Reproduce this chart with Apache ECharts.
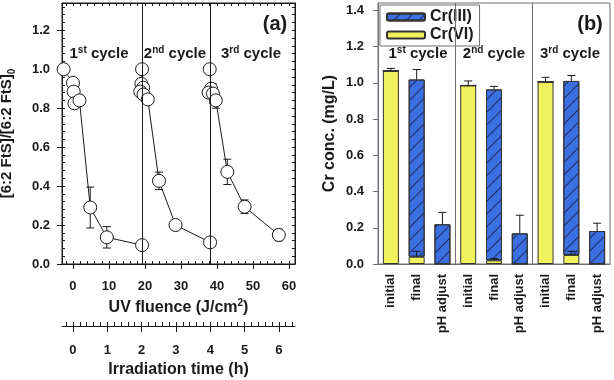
<!DOCTYPE html>
<html><head><meta charset="utf-8">
<script src="https://cdn.jsdelivr.net/npm/echarts@6/dist/echarts.min.js"></script>
<style>html,body{margin:0;padding:0;background:#fff}#c{width:614px;height:380px}</style>
</head><body><div id="c"></div>
<script>
// ---------- panel (a) data ----------
const cycle1Fluence = [-2.6, 0.0, 0.2, 0.4, 1.8, 4.8, 9.4, 19.2];
const cycle1Ratio   = [1.0, 0.93, 0.885, 0.825, 0.84, 0.29, 0.137, 0.097];
const cycle2Fluence = [19.2, 19.0, 19.5, 18.7, 19.6, 20.8, 23.9, 28.5, 38.1];
const cycle2Ratio   = [1.0, 0.925, 0.905, 0.885, 0.87, 0.845, 0.427, 0.2, 0.111];
const cycle3Fluence = [38.0, 38.4, 37.7, 38.9, 39.7, 42.9, 47.7, 57.2];
const cycle3Ratio   = [1.0, 0.9, 0.88, 0.875, 0.84, 0.473, 0.294, 0.149];
const errFluence = [4.8, 9.4, 23.9, 38.9, 39.7, 42.9, 47.7, 57.2];
const errRatio   = [0.29, 0.137, 0.427, 0.875, 0.84, 0.473, 0.294, 0.149];
const errSize    = [0.105, 0.055, 0.045, 0.05, 0.04, 0.065, 0.035, 0.03];
const cycleBreaks = [19.2, 38.2];
const fluenceTicks = [0, 10, 20, 30, 40, 50, 60];
const timeTicks = [0, 1, 2, 3, 4, 5, 6];
const ratioTicks = [0, 0.2, 0.4, 0.6, 0.8, 1.0, 1.2];

// ---------- panel (b) data ----------
const categories = ['initial', 'final', 'pH adjust', 'initial', 'final', 'pH adjust', 'initial', 'final', 'pH adjust'];
const crVI   = [1.065, 0.04, 0, 0.985, 0.02, 0, 1.005, 0.05, 0];
const crIII  = [0, 0.978, 0.219, 0, 0.943, 0.169, 0, 0.96, 0.182];
const errVI  = [0.014, 0.03, 0, 0.025, 0.01, 0, 0.025, 0.02, 0];
const errIII = [0, 0.055, 0.066, 0, 0.017, 0.1, 0, 0.03, 0.043];
const concTicks = [0, 0.2, 0.4, 0.6, 0.8, 1.0, 1.2, 1.4];
const categoryBreaks = [3, 6];

// helpers for minor tick positions
function steps(a, b, s) { const r = []; for (let v = a; v <= b + 1e-9; v += s) r.push(+v.toFixed(4)); return r; }

const ptsA = (xs, ys) => xs.map((x, i) => [x, ys[i]]);
const errDataA = errFluence.map((x, i) => [x, errRatio[i], errSize[i]]);
const errDataB = [];
categories.forEach((c, i) => {
  if (errVI[i] > 0) errDataB.push([i, crVI[i], errVI[i]]);
  if (errIII[i] > 0) errDataB.push([i, crVI[i] + crIII[i], errIII[i]]);
});

const F = 'Liberation Sans, Arial, sans-serif';
const black = '#1a1a1a';
const grey = '#707070';

const lineSeries = (data, extra) => Object.assign({
  type: 'line', xAxisIndex: 0, yAxisIndex: 0, data: data,
  symbol: 'circle', symbolSize: 13,
  itemStyle: { color: '#fff', borderColor: black, borderWidth: 1 },
  lineStyle: { color: black, width: 1 }, z: 3, animation: false
}, extra || {});

const chart = echarts.init(document.getElementById('c'), null, { renderer: 'canvas' });
const option = {
  animation: false,
  grid: [
    { left: 62, top: 3, width: 233, height: 261, show: true, borderColor: black, borderWidth: 1, containLabel: false, outerBoundsMode: 'none' },
    { left: 378, top: 3, width: 232, height: 261, show: true, borderColor: grey, borderWidth: 1, containLabel: false, outerBoundsMode: 'none' }
  ],
  xAxis: [
    { // 0 fluence main
      gridIndex: 0, type: 'value', min: -3.05, max: 61.7, position: 'bottom',
      axisLine: { onZero: false, lineStyle: { color: black } },
      axisTick: { customValues: fluenceTicks, length: 5, lineStyle: { color: black } },
      axisLabel: { customValues: fluenceTicks, margin: 16, color: black, fontFamily: F, fontWeight: 'bold', fontSize: 13 },
      splitLine: { show: false },
      name: '{a|UV fluence (J/cm}{s|2}{a|)}', nameLocation: 'middle', nameGap: 32,
      nameTextStyle: { rich: {
        a: { fontFamily: F, fontWeight: 'bold', fontSize: 16, color: black, lineHeight: 20 },
        s: { fontFamily: F, fontWeight: 'bold', fontSize: 10, color: black, verticalAlign: 'top', lineHeight: 20 } } }
    },
    { // 1 fluence inner minor
      gridIndex: 0, type: 'value', min: -3.05, max: 61.7, position: 'bottom',
      axisLine: { show: false, onZero: false },
      axisTick: { inside: true, customValues: steps(-2, 60, 2), length: 3, lineStyle: { color: black } },
      axisLabel: { show: false }, splitLine: { show: false }
    },
    { // 2 top mirror
      gridIndex: 0, type: 'value', min: -3.05, max: 61.7, position: 'top',
      axisLine: { onZero: false, lineStyle: { color: black } },
      axisTick: { inside: true, customValues: steps(-2, 60, 2), length: 3, lineStyle: { color: black } },
      axisLabel: { show: false }, splitLine: { show: false }
    },
    { // 3 time main
      gridIndex: 0, type: 'value', min: -0.32, max: 6.47, position: 'bottom', offset: 62,
      axisLine: { onZero: false, lineStyle: { color: black } },
      axisTick: { customValues: timeTicks, length: 6, lineStyle: { color: black } },
      axisLabel: { customValues: timeTicks, margin: 18, color: black, fontFamily: F, fontWeight: 'bold', fontSize: 13 },
      splitLine: { show: false },
      name: 'Irradiation time (h)', nameLocation: 'middle', nameGap: 36,
      nameTextStyle: { fontFamily: F, fontWeight: 'bold', fontSize: 16, color: black }
    },
    { // 4 time minor
      gridIndex: 0, type: 'value', min: -0.32, max: 6.47, position: 'bottom', offset: 62,
      axisLine: { show: false, onZero: false },
      axisTick: { inside: true, customValues: steps(-0.2, 6.4, 0.2), length: 4, lineStyle: { color: black } },
      axisLabel: { show: false }, splitLine: { show: false }
    },
    { // 5 categories
      gridIndex: 1, type: 'category', data: categories, boundaryGap: true,
      axisLine: { onZero: false, lineStyle: { color: grey } },
      axisTick: { alignWithLabel: true, length: 4, lineStyle: { color: grey } },
      axisLabel: { rotate: 90, interval: 0, margin: 10, color: black, fontFamily: F, fontWeight: 'bold', fontSize: 13 }
    },
    { // 6 hidden value axis for separators
      gridIndex: 1, type: 'value', min: 0, max: 9, show: false
    }
  ],
  yAxis: [
    { // 0 ratio main
      gridIndex: 0, type: 'value', min: 0, max: 1.34, position: 'left',
      axisLine: { show: true, onZero: false, lineStyle: { color: black } },
      axisTick: { show: true, customValues: ratioTicks, length: 5, lineStyle: { color: black } },
      axisLabel: { customValues: ratioTicks, formatter: v => v.toFixed(1), margin: 12, color: black, fontFamily: F, fontWeight: 'bold', fontSize: 13 },
      splitLine: { show: false },
      name: '{a|[6:2 FtS]/[6:2 FtS]}{b|0}', nameLocation: 'middle', nameGap: 45,
      nameTextStyle: { rich: {
        a: { fontFamily: F, fontWeight: 'bold', fontSize: 15, color: black, lineHeight: 20 },
        b: { fontFamily: F, fontWeight: 'bold', fontSize: 10, color: black, verticalAlign: 'bottom', lineHeight: 20 } } }
    },
    { // 1 ratio inner minor
      gridIndex: 0, type: 'value', min: 0, max: 1.34, position: 'left',
      axisLine: { show: false, onZero: false },
      axisTick: { show: true, inside: true, customValues: steps(0.04, 1.32, 0.04), length: 3, lineStyle: { color: black } },
      axisLabel: { show: false }, splitLine: { show: false }
    },
    { // 2 right mirror
      gridIndex: 0, type: 'value', min: 0, max: 1.34, position: 'right',
      axisLine: { show: true, onZero: false, lineStyle: { color: black } },
      axisTick: { show: true, inside: true, customValues: steps(0.04, 1.32, 0.04), length: 3, lineStyle: { color: black } },
      axisLabel: { show: false }, splitLine: { show: false }
    },
    { // 3 concentration
      gridIndex: 1, type: 'value', min: 0, max: 1.44, position: 'left',
      axisLine: { show: true, onZero: false, lineStyle: { color: grey } },
      axisTick: { show: true, customValues: concTicks, length: 5, lineStyle: { color: grey } },
      axisLabel: { customValues: concTicks, formatter: v => v.toFixed(1), margin: 14, color: black, fontFamily: F, fontWeight: 'bold', fontSize: 13 },
      splitLine: { show: false },
      name: 'Cr conc. (mg/L)', nameLocation: 'middle', nameGap: 40,
      nameTextStyle: { fontFamily: F, fontWeight: 'bold', fontSize: 16, color: black }
    }
  ],
  legend: {
    data: ['Cr(III)', 'Cr(VI)'], orient: 'vertical', left: 380, top: 5,
    itemWidth: 38, itemHeight: 7, itemGap: 2, padding: [4, 6, 3, 6],
    borderColor: grey, borderWidth: 1, backgroundColor: '#fff',
    textStyle: { fontFamily: F, fontWeight: 'bold', fontSize: 16, color: black, lineHeight: 16 }
  },
  graphic: [
    { type: 'text', x: 275, y: 24, style: { text: '(a)', font: 'bold 20px ' + F, fill: black, align: 'center', verticalAlign: 'middle', textAlign: 'center', textVerticalAlign: 'middle' } },
    { type: 'text', x: 590, y: 24, style: { text: '(b)', font: 'bold 20px ' + F, fill: black, align: 'center', verticalAlign: 'middle', textAlign: 'center', textVerticalAlign: 'middle' } }
  ].concat([[99, '1', 'st'], [175, '2', 'nd'], [251, '3', 'rd'], [418, '1', 'st'], [494, '2', 'nd'], [570, '3', 'rd']].map(d => ({
    type: 'text', x: d[0], y: 54,
    style: {
      text: '{n|' + d[1] + '}{s|' + d[2] + '}{n| cycle}',
      align: 'center', verticalAlign: 'middle', textAlign: 'center', textVerticalAlign: 'middle',
      rich: {
        n: { fontFamily: F, fontWeight: 'bold', fontSize: 15, fill: black, color: black, lineHeight: 18 },
        s: { fontFamily: F, fontWeight: 'bold', fontSize: 10, fill: black, color: black, verticalAlign: 'top', lineHeight: 18 }
      }
    }
  }))),
  series: [
    {
      type: 'custom', xAxisIndex: 0, yAxisIndex: 0, data: errDataA, z: 2, silent: true,
      renderItem: function (params, api) {
        const x = api.value(0), y = api.value(1), e = api.value(2);
        const lo = api.coord([x, y - e]), hi = api.coord([x, y + e]);
        const w = 4, st = { stroke: black, lineWidth: 1 };
        return { type: 'group', children: [
          { type: 'line', shape: { x1: lo[0], y1: lo[1], x2: hi[0], y2: hi[1] }, style: st },
          { type: 'line', shape: { x1: lo[0] - w, y1: lo[1], x2: lo[0] + w, y2: lo[1] }, style: st },
          { type: 'line', shape: { x1: hi[0] - w, y1: hi[1], x2: hi[0] + w, y2: hi[1] }, style: st }
        ] };
      }
    },
    lineSeries(ptsA(cycle1Fluence, cycle1Ratio), {
      markLine: { silent: true, symbol: 'none', label: { show: false },
        lineStyle: { color: black, type: 'solid', width: 1 },
        data: cycleBreaks.map(v => ({ xAxis: v })) }
    }),
    lineSeries(ptsA(cycle2Fluence, cycle2Ratio)),
    lineSeries(ptsA(cycle3Fluence, cycle3Ratio)),
    {
      name: 'Cr(VI)', type: 'bar', xAxisIndex: 5, yAxisIndex: 3, stack: 'cr', data: crVI, barWidth: 16,
      itemStyle: { color: '#f2f25e', borderColor: '#333', borderWidth: 1 }, z: 2
    },
    {
      name: 'Cr(III)', type: 'bar', xAxisIndex: 5, yAxisIndex: 3, stack: 'cr', data: crIII, barWidth: 16,
      itemStyle: { color: '#3c6fe0', borderColor: '#333', borderWidth: 1,
        decal: { symbol: 'rect', symbolSize: 1, dashArrayX: [1, 0], dashArrayY: [1, 8], rotation: -Math.PI / 4, color: '#1c2b66' } },
      z: 2
    },
    {
      type: 'custom', xAxisIndex: 5, yAxisIndex: 3, data: errDataB, z: 4, silent: true,
      renderItem: function (params, api) {
        const x = api.value(0), y = api.value(1), e = api.value(2);
        const lo = api.coord([x, y]), hi = api.coord([x, y + e]);
        const w = 4, st = { stroke: black, lineWidth: 1 };
        return { type: 'group', children: [
          { type: 'line', shape: { x1: lo[0], y1: lo[1], x2: hi[0], y2: hi[1] }, style: st },
          { type: 'line', shape: { x1: hi[0] - w, y1: hi[1], x2: hi[0] + w, y2: hi[1] }, style: st }
        ] };
      }
    },
    {
      type: 'line', xAxisIndex: 6, yAxisIndex: 3, data: [], silent: true,
      markLine: { silent: true, symbol: 'none', label: { show: false },
        lineStyle: { color: grey, type: 'solid', width: 1 },
        data: categoryBreaks.map(v => ({ xAxis: v })) }
    }
  ]
};
chart.setOption(option);
</script>
</body></html>
